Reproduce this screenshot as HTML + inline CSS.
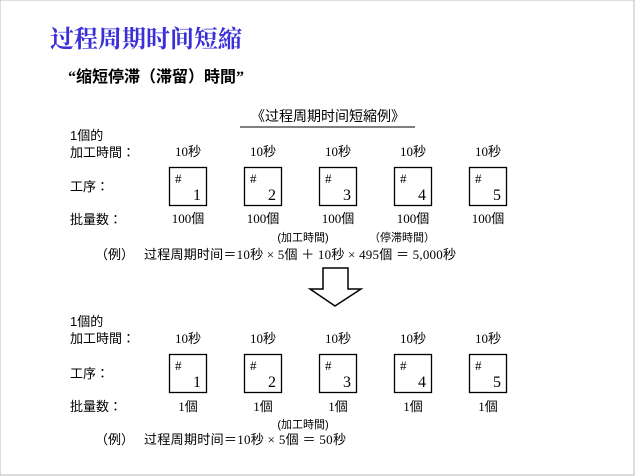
<!DOCTYPE html>
<html><head><meta charset="utf-8"><style>
html,body{margin:0;padding:0;background:#fff;}
svg{display:block;}
text{font-family:"Liberation Serif","Noto Sans CJK JP",serif;fill:#000;}
.s{font-family:"Liberation Sans","Noto Sans CJK JP",sans-serif;}
</style></head><body>
<svg width="635" height="476" viewBox="0 0 635 476" xmlns="http://www.w3.org/2000/svg">
<rect x="0" y="0" width="634" height="475" fill="#fff" stroke="#bbb" stroke-width="1"/>
<text x="50" y="47" font-size="24" font-weight="bold" style="fill:#3a30d8;font-family:'Noto Serif CJK SC','Noto Sans CJK JP',serif">过程周期时间短縮</text>
<text x="68" y="82" font-size="16" font-weight="bold">“缩短停滞（滞留）時間”</text>
<text x="328" y="121" font-size="14" text-anchor="middle" class="s">《过程周期时间短縮例》</text>
<line x1="240" y1="127" x2="415" y2="127" stroke="#000" stroke-width="1"/>
<g font-size="13">
<text x="70" y="140" class="s">1個的</text>
<text x="70" y="157" class="s">加工時間：</text>
<text x="70" y="191" class="s">工序：</text>
<text x="70" y="224" class="s">批量数：</text>
<g text-anchor="middle">
<text x="188" y="156">10秒</text><text x="263" y="156">10秒</text><text x="338" y="156">10秒</text><text x="413" y="156">10秒</text><text x="488" y="156">10秒</text>
<text x="188" y="223">100個</text><text x="263" y="223">100個</text><text x="338" y="223">100個</text><text x="413" y="223">100個</text><text x="488" y="223">100個</text>
</g>
<text x="303" y="241" font-size="11" text-anchor="middle" class="s">(加工時間)</text>
<text x="402" y="241" font-size="11" text-anchor="middle" class="s">（停滞時間）</text>
<text x="95" y="259" class="s">（例）</text>
<text x="144" y="259" textLength="312" lengthAdjust="spacing">过程周期时间＝10秒 × 5個 ＋ 10秒 × 495個 ＝ 5,000秒</text>

<text x="70" y="326" class="s">1個的</text>
<text x="70" y="343" class="s">加工時間：</text>
<text x="70" y="378" class="s">工序：</text>
<text x="70" y="411" class="s">批量数：</text>
<g text-anchor="middle">
<text x="188" y="343">10秒</text><text x="263" y="343">10秒</text><text x="338" y="343">10秒</text><text x="413" y="343">10秒</text><text x="488" y="343">10秒</text>
<text x="188" y="411">1個</text><text x="263" y="411">1個</text><text x="338" y="411">1個</text><text x="413" y="411">1個</text><text x="488" y="411">1個</text>
</g>
<text x="303" y="428" font-size="11" text-anchor="middle" class="s">(加工時間)</text>
<text x="95" y="444" class="s">（例）</text>
<text x="144" y="444" textLength="202" lengthAdjust="spacing">过程周期时间＝10秒 × 5個 ＝ 50秒</text>
</g>
<g fill="none" stroke="#000" stroke-width="1.3">
<rect x="169.5" y="167.5" width="37" height="38"/><rect x="244.5" y="167.5" width="37" height="38"/><rect x="319.5" y="167.5" width="37" height="38"/><rect x="394.5" y="167.5" width="37" height="38"/><rect x="469.5" y="167.5" width="37" height="38"/>
<rect x="169.5" y="354.5" width="37" height="38"/><rect x="244.5" y="354.5" width="37" height="38"/><rect x="319.5" y="354.5" width="37" height="38"/><rect x="394.5" y="354.5" width="37" height="38"/><rect x="469.5" y="354.5" width="37" height="38"/>
<polygon points="323,268 348,268 348,289 361,289 335,306 310,289 323,289" stroke-width="1.5"/>
</g>
<g font-size="13">
<text x="175" y="183">#</text><text x="250" y="183">#</text><text x="325" y="183">#</text><text x="400" y="183">#</text><text x="475" y="183">#</text>
<text x="175" y="370">#</text><text x="250" y="370">#</text><text x="325" y="370">#</text><text x="400" y="370">#</text><text x="475" y="370">#</text>
</g>
<g font-size="16">
<text x="193" y="200">1</text><text x="268" y="200">2</text><text x="343" y="200">3</text><text x="418" y="200">4</text><text x="493" y="200">5</text>
<text x="193" y="387">1</text><text x="268" y="387">2</text><text x="343" y="387">3</text><text x="418" y="387">4</text><text x="493" y="387">5</text>
</g>
</svg>
</body></html>
